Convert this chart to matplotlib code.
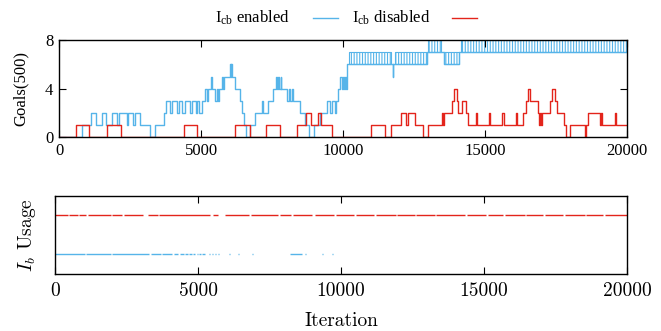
import matplotlib
matplotlib.use("Agg")
import matplotlib.pyplot as plt
from matplotlib.lines import Line2D

# ---------------- data ----------------
x_ticks = [0, 5000, 10000, 15000, 20000]
x_tick_labels = ["0", "5000", "10000", "15000", "20000"]
goal_ticks = [0, 4, 8]
goal_tick_labels = ["0", "4", "8"]

# Goals, Icb enabled (step changes: x where the value starts, value)
blue_x = [0, 800, 1117, 1305, 1505, 1658, 1858, 2034, 2110, 2400, 2440, 2620, 2660,
          2857, 3186, 3386, 3680, 3750, 3891, 3961, 4150, 4220, 4338, 4420, 4620,
          4690, 4808, 4868, 4920, 5032, 5150, 5210, 5232, 5361, 5400, 5502, 5560,
          5600, 5620, 5737, 5780, 5820, 5878, 6008, 6040, 6060, 6090, 6125, 6208,
          6361, 6443, 6526, 6596, 6714, 6913, 7148, 7190, 7348, 7524, 7654, 7690,
          7720, 7760, 7800, 7818, 8030, 8100, 8150, 8200, 8240, 8289, 8500, 8677,
          8818, 8971, 9206, 9440, 9535, 9600, 9700, 9740, 9830, 9911, 9950, 9990,
          10030, 10060, 10100, 10123, 11675, 11757, 11775, 12945, 13557, 14086]
blue_y = [0, 1, 2, 1, 2, 1, 2, 1, 2, 1, 2, 1, 2,
          1, 0, 1, 2, 3, 2, 3, 2, 3, 2, 3, 2,
          3, 2, 3, 2, 3, 4, 3, 4, 5, 4, 3, 4,
          3, 4, 5, 4, 5, 5, 6, 5, 6, 5, 5, 4,
          3, 2, 1, 0, 1, 2, 3, 2, 3, 4, 5, 4,
          5, 4, 5, 4, 3, 4, 3, 4, 3, 3, 2, 1,
          0, 1, 2, 3, 2, 3, 2, 3, 4, 5, 4, 5,
          4, 5, 4, 6, 6, 5, 6, 7, 6, 7]
# rapidly flickering ranges of the enabled curve: (start, end, low, high)
blue_flicker = [(10205, 11675, 6, 7), (11816, 12945, 6, 7), (12992, 13463, 7, 8),
                (13557, 14086, 6, 7), (14145, 20000, 7, 8)]

# Goals, Icb disabled
red_x = [0, 590, 1070, 1693, 2187, 4385, 4868, 6208, 6714, 7289, 7771, 8383, 8700,
         8877, 9124, 9230, 9618, 10969, 11463, 11698, 12052, 12205, 12299, 12534,
         12827, 13004, 13474, 13510, 13557, 13851, 13910, 14004, 14063, 14204,
         14345, 14415, 14672, 14720, 15143, 15190, 15614, 15660, 16084, 16140,
         16354, 16437, 16496, 16590, 16849, 16908, 16940, 16975, 17010, 17283,
         17341, 17471, 17530, 17789, 17848, 18001, 18530, 18560, 18613, 19060,
         19090, 19110, 19577, 19620]
red_y = [0, 1, 0, 1, 0, 1, 0, 1, 0, 1, 0, 1, 2,
         1, 2, 1, 0, 1, 0, 1, 2, 1, 2, 1,
         0, 1, 2, 1, 2, 3, 4, 3, 2, 3,
         2, 1, 2, 1, 2, 1, 2, 1, 2, 1,
         2, 3, 4, 3, 2, 1, 2, 1, 2, 3,
         4, 3, 2, 1, 0, 1, 0, 1, 2, 1,
         2, 1, 2, 1]

# Ib usage intervals
red_usage = [(0, 440), (500, 790), (850, 1080), (1140, 1950), (2010, 2360), (2420, 3090),
             (3240, 3590), (3650, 5420), (5540, 5710), (5950, 6800), (6860, 7790),
             (7850, 8250), (8310, 8980), (9080, 9770), (9830, 10470), (10530, 11170),
             (11230, 11910), (11970, 12570), (12630, 13270), (13330, 14350),
             (14420, 15070), (15130, 15670), (15730, 16420), (16480, 17070),
             (17130, 17770), (17830, 18520), (18580, 19170), (19230, 20000)]
blue_usage = [(0, 1050), (1100, 1950), (2000, 3300), (3350, 3700), (3750, 4100),
              (4150, 4300), (4380, 4500), (4550, 4650), (4700, 4780), (4830, 4900),
              (4950, 5000), (5050, 5100), (5150, 5250), (5300, 5330), (5400, 5430),
              (5500, 5520), (5600, 5620), (5700, 5720), (5800, 5810), (5900, 5910),
              (6000, 6010), (6100, 6110), (6400, 6420), (6700, 6720), (6900, 6930),
              (7200, 7210), (7500, 7510), (8200, 8650), (8750, 8780), (8900, 8920),
              (9050, 9070), (9200, 9210), (9350, 9370), (9700, 9710)]

BLUE = "#56B4E9"
RED = "#E3241B"

plt.rcParams["font.family"] = ["Liberation Serif", "DejaVu Serif"]
plt.rcParams["mathtext.fontset"] = "custom"
plt.rcParams["mathtext.rm"] = "Liberation Serif"
plt.rcParams["mathtext.it"] = "Liberation Serif:italic"
plt.rcParams["hatch.linewidth"] = 0.8

fig = plt.figure(figsize=(6.61, 3.31), dpi=100)
ax1 = fig.add_axes([0.0893, 0.5846, 0.8593, 0.2946])
ax2 = fig.add_axes([0.0832, 0.1731, 0.8654, 0.2348])

# --- top panel ---
ax1.step(blue_x + [20000], blue_y + [blue_y[-1]], where="post", color=BLUE, lw=1.0)
for x0, x1, lo, hi in blue_flicker:
    ax1.fill_between([x0, x1], [lo, lo], [hi, hi], facecolor="none", edgecolor=BLUE,
                     hatch="||||||", linewidth=0.8)
ax1.step(red_x + [20000], red_y + [red_y[-1]], where="post", color=RED, lw=1.0)
ax1.set_xlim(0, 20000)
ax1.set_ylim(0, 8)
ax1.set_xticks(x_ticks, x_tick_labels)
ax1.set_yticks(goal_ticks, goal_tick_labels)
ax1.tick_params(direction="in", top=True, right=True, length=5, labelsize=12, pad=4)
ax1.set_ylabel("Goals(500)", fontsize=12, labelpad=12)
for s in ax1.spines.values():
    s.set_linewidth(1.0)

# --- bottom panel ---
ax2.hlines([3] * len(red_usage), [a for a, b in red_usage], [b for a, b in red_usage],
           color=RED, lw=1.0)
ax2.hlines([1] * len(blue_usage), [a for a, b in blue_usage], [b for a, b in blue_usage],
           color=BLUE, lw=1.0)
ax2.set_xlim(0, 20000)
ax2.set_ylim(0, 4)
ax2.set_yticks([])
ax2.set_xticks(x_ticks, x_tick_labels, fontfamily="cmr10")
ax2.tick_params(direction="in", top=True, length=5, labelsize=14, pad=6)
ax2.set_xlabel("Iteration", fontsize=14, fontfamily="cmr10", labelpad=9)
ax2.set_ylabel(r"$I_b$ Usage", fontsize=14, fontfamily="cmr10", math_fontfamily="cm",
               labelpad=12)
for s in ax2.spines.values():
    s.set_linewidth(1.0)

# --- legend ---
ly = 1 - 18 / 331
fig.text(290 / 661, ly, r"I$_{\mathrm{cb}}$ enabled", ha="right", va="center", fontsize=12)
fig.add_artist(Line2D([313 / 661, 338 / 661], [ly, ly], color=BLUE, lw=1.0,
                      transform=fig.transFigure))
fig.text(430 / 661, ly, r"I$_{\mathrm{cb}}$ disabled", ha="right", va="center", fontsize=12)
fig.add_artist(Line2D([452 / 661, 477 / 661], [ly, ly], color=RED, lw=1.0,
                      transform=fig.transFigure))

fig.savefig("out.png", dpi=100)
